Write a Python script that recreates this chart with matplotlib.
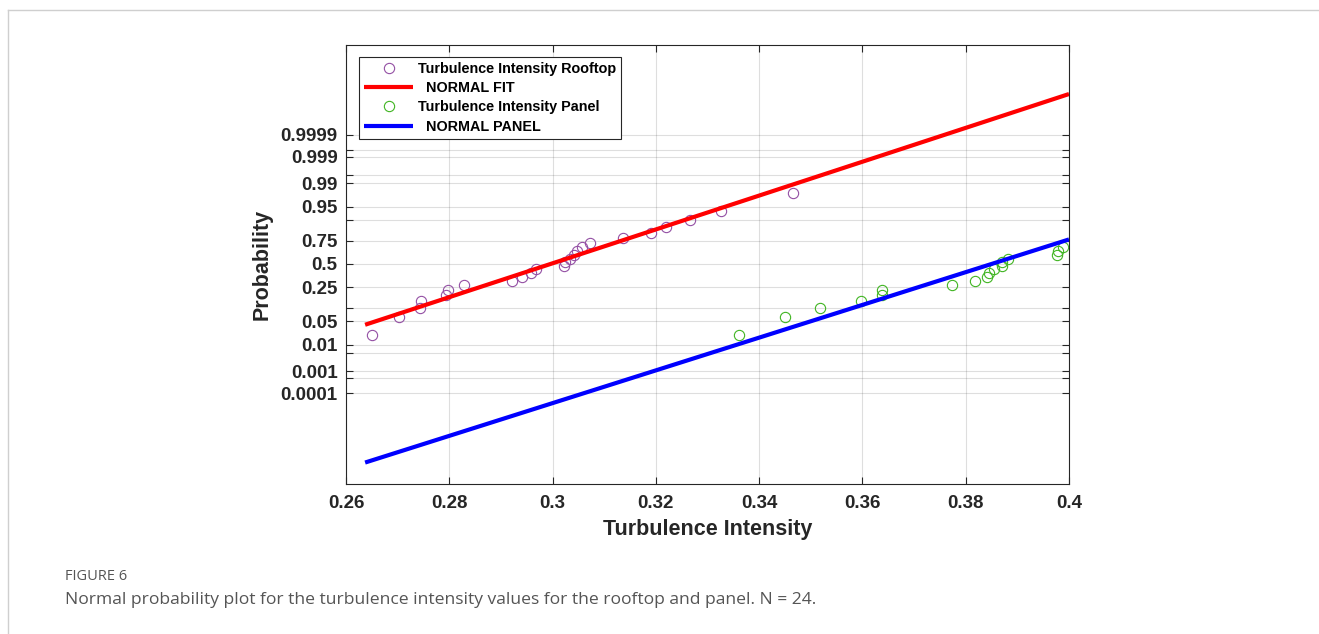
import math
from statistics import NormalDist

import numpy as np
import matplotlib
matplotlib.use("Agg")
import matplotlib.pyplot as plt
from matplotlib.lines import Line2D

# sorted turbulence intensity samples (N = 24 per series)
rooftop_ti = [0.2651, 0.2703, 0.2743, 0.2745, 0.2794, 0.2798, 0.2828, 0.2922,
              0.2941, 0.2958, 0.2968, 0.3022, 0.3024, 0.3034, 0.3041, 0.3047,
              0.3057, 0.3072, 0.3136, 0.3191, 0.3220, 0.3266, 0.3327, 0.3466]
# only the lowest 17 panel values fall inside the plotted x range (<= 0.4)
panel_ti = [0.3361, 0.3451, 0.3518, 0.3598, 0.3637, 0.3638, 0.3774, 0.3818,
            0.3842, 0.3846, 0.3855, 0.3870, 0.3871, 0.3882, 0.3976, 0.3979,
            0.3989]
n_samples = 24

# normal fits (mean, std) used for the two straight reference lines
rooftop_fit = (0.2996, 0.0205)
panel_fit = (0.3850, 0.0212)
fit_x = [0.2637, 0.40]

prob_ticks = [0.0001, 0.0005, 0.001, 0.005, 0.01, 0.05, 0.1, 0.25, 0.5,
              0.75, 0.9, 0.95, 0.99, 0.995, 0.999, 0.9995, 0.9999]
prob_labels = ["0.0001", "", "0.001", "", "0.01", "0.05", "", "0.25", "0.5",
               "0.75", "", "0.95", "0.99", "", "0.999", "", "0.9999"]
x_ticks = [0.26, 0.28, 0.30, 0.32, 0.34, 0.36, 0.38, 0.40]
x_labels = ["0.26", "0.28", "0.3", "0.32", "0.34", "0.36", "0.38", "0.4"]

_nd = NormalDist()


def probit(p):
    p = np.clip(np.asarray(p, dtype=float), 1e-300, 1 - 1e-16)
    return np.vectorize(_nd.inv_cdf, otypes=[float])(p)


def norm_cdf(z):
    z = np.asarray(z, dtype=float)
    f = lambda v: 0.5 * math.erfc(-v / math.sqrt(2.0))
    return np.vectorize(f, otypes=[float])(z)


def plotting_pos(n_shown):
    # (i - 0.5) / N positions, as a normal probability plot uses
    return (np.arange(1, n_shown + 1) - 0.5) / n_samples


plt.rcParams["font.family"] = ["Liberation Sans", "DejaVu Sans"]
plt.rcParams["font.weight"] = "bold"

W, H = 1319, 634
fig = plt.figure(figsize=(W / 100, H / 100), dpi=100)
ax = fig.add_axes([346 / W, 1 - 484 / H, (1069 - 346) / W, (484 - 45) / H])
ax.set_yscale("function", functions=(probit, norm_cdf))

purple = "#9450A4"
green = "#41B523"

ax.plot(rooftop_ti, plotting_pos(len(rooftop_ti)), "o", mfc="none",
        mec=purple, ms=7.4, mew=0.8, label="Turbulence Intensity Rooftop")
fx = np.array(fit_x)
ax.plot(fx, norm_cdf((fx - rooftop_fit[0]) / rooftop_fit[1]), color="red",
        lw=3.0, label="  NORMAL FIT", solid_capstyle="butt")
ax.plot(panel_ti, plotting_pos(len(panel_ti)), "o", mfc="none",
        mec=green, ms=7.4, mew=0.8, label="Turbulence Intensity Panel")
ax.plot(fx, norm_cdf((fx - panel_fit[0]) / panel_fit[1]), color="blue",
        lw=3.0, label="  NORMAL PANEL", solid_capstyle="butt")

ax.set_xlim(0.26, 0.40)
ax.set_ylim(float(norm_cdf(-6.34)), float(norm_cdf(6.31)))
ax.set_xticks(x_ticks)
ax.set_xticklabels(x_labels)
ax.set_yticks(prob_ticks)
ax.set_yticklabels(prob_labels)
ax.yaxis.set_minor_locator(matplotlib.ticker.NullLocator())
ax.xaxis.set_minor_locator(matplotlib.ticker.NullLocator())

ax.grid(True, color="#262626", alpha=0.15, lw=0.8)
ax.set_axisbelow(True)
for s in ax.spines.values():
    s.set_color("#262626")
    s.set_linewidth(0.8)
ax.tick_params(direction="in", length=5.2, width=0.8, colors="#262626",
               top=True, right=True, labelsize=13.5)
ax.tick_params(axis="x", pad=8)
ax.tick_params(axis="y", pad=6)
for lab in ax.get_xticklabels() + ax.get_yticklabels():
    lab.set_color("#262626")
    lab.set_fontweight("bold")

ax.set_xlabel("Turbulence Intensity", fontsize=15.5, fontweight="bold",
              color="#262626", labelpad=5)
ax.set_ylabel("Probability", fontsize=15.5, fontweight="bold",
              color="#262626", labelpad=6)

leg = ax.legend(loc="upper left", bbox_to_anchor=(13 / 723, 1 - 12 / 439),
                borderaxespad=0, fancybox=False, framealpha=1,
                edgecolor="#262626", handlelength=3.4, handletextpad=0.3,
                labelspacing=0.36, borderpad=0.35, numpoints=1,
                prop={"size": 10.4, "weight": "bold"})
leg.get_frame().set_linewidth(0.8)

# page frame + caption
fig.add_artist(Line2D([8 / W, 1], [1 - 10 / H, 1 - 10 / H], color="#cfcfcf",
                      lw=1, transform=fig.transFigure))
fig.add_artist(Line2D([8 / W, 8 / W], [0, 1 - 10 / H], color="#cfcfcf",
                      lw=1, transform=fig.transFigure))
fig.text(65 / W, 1 - 577 / H, "FIGURE 6", fontsize=10.5, color="#555555",
         family=["Open Sans", "DejaVu Sans"], fontweight="normal",
         va="center", ha="left")
fig.text(65 / W, 1 - 600 / H,
         "Normal probability plot for the turbulence intensity values for "
         "the rooftop and panel. N = 24.", fontsize=12.6, color="#555555",
         family=["Open Sans", "DejaVu Sans"], fontweight="normal",
         va="center", ha="left")

fig.savefig("out.png", dpi=100)
